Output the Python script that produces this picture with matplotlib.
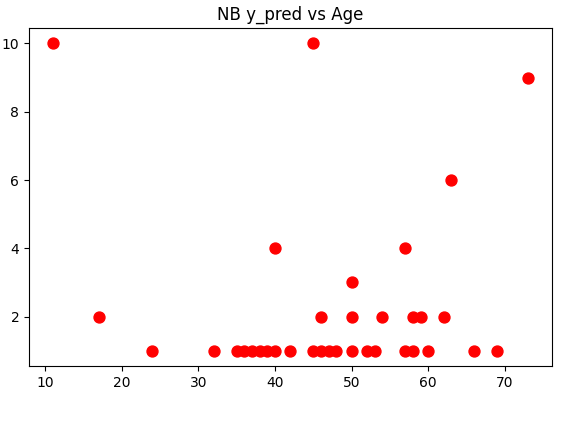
import matplotlib
matplotlib.use("Agg")
import matplotlib.pyplot as plt

age_y1 = [24, 32, 35, 36, 37, 38, 39, 40, 42, 45, 46, 47, 48, 50, 52, 53, 57, 58, 60, 66, 69]
age_y2 = [17, 46, 50, 54, 58, 59, 62]
age_other = [50, 40, 57, 63, 73, 11, 45]
pred_other = [3, 4, 4, 6, 9, 10, 10]

ages = age_y1 + age_y2 + age_other
preds = [1] * len(age_y1) + [2] * len(age_y2) + pred_other

fig = plt.figure(figsize=(5.72, 4.26), dpi=100)
ax = fig.add_axes([0.0507, 0.1408, 0.9138, 0.7932])
ax.scatter(ages, preds, color="red", s=62)
ax.set_title("NB y_pred vs Age", fontsize=12)
ax.set_xticks([10, 20, 30, 40, 50, 60, 70])
ax.set_yticks([2, 4, 6, 8, 10])
ax.tick_params(labelsize=10)
fig.savefig("out.png", dpi=100)
